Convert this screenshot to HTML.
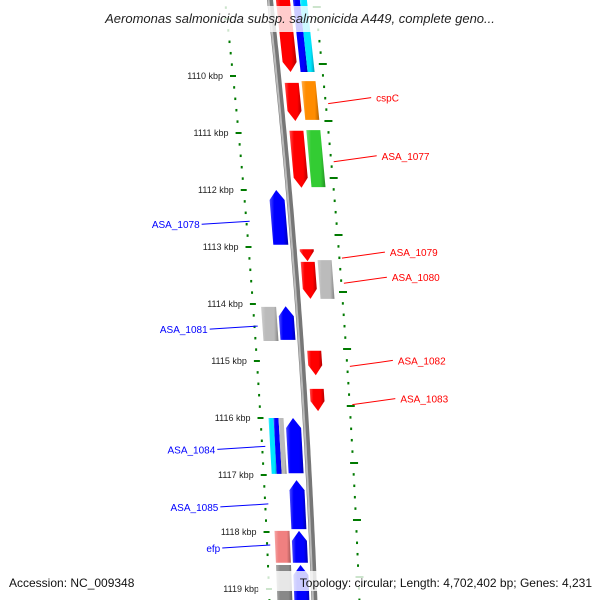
<!DOCTYPE html>
<html><head><meta charset="utf-8"><style>
html,body{margin:0;padding:0;background:#fff;}
svg{display:block;font-family:"Liberation Sans","DejaVu Sans",sans-serif;}
</style></head><body>
<svg id="map" width="600" height="600" viewBox="0 0 600 600" xmlns="http://www.w3.org/2000/svg">
<defs>
<linearGradient id="bb" x1="0" x2="1" y1="0" y2="0"><stop offset="0" stop-color="#aaa"/><stop offset="0.4" stop-color="#888"/><stop offset="1" stop-color="#555"/></linearGradient>
</defs>
<g id="ticks"></g>
<g id="backbone-g"></g>
<g id="feats"></g>
<g id="labels"></g>
<rect x="62" y="6" width="476" height="26" fill="#fff" opacity="0.8"/>
<text x="300" y="23" text-anchor="middle" font-size="13" font-style="italic" fill="#222">Aeromonas salmonicida subsp. salmonicida A449, complete geno...</text>
<rect x="5" y="571" width="147" height="20" fill="#fff" opacity="0.8"/>
<text x="9" y="587" font-size="12" fill="#111">Accession: NC_009348</text>
<rect x="258" y="571" width="338" height="20" fill="#fff" opacity="0.8"/>
<text x="592" y="587" text-anchor="end" font-size="12" fill="#111">Topology: circular; Length: 4,702,402 bp; Genes: 4,231</text>
</svg>
<script>
// data
const featStart = [1108.5,1108.5,1108.5,1110.12,1110.09,1110.96,1110.95,1112.0,1113.04,1113.26,1113.23,1114.05,1114.04,1114.82,1115.49,1116.0,1116.0,1116.0,1116.0,1117.09,1117.98,1117.98,1118.58,1118.58];
const featEnd   = [1109.93,1109.93,1109.93,1110.79,1110.77,1111.96,1111.95,1112.96,1113.25,1113.91,1113.91,1114.65,1114.63,1115.25,1115.88,1116.98,1116.98,1116.98,1116.97,1117.95,1118.54,1118.54,1119.4,1119.4];
const featLane  = ['rin','routA','routB','rin','rout','rin','rout','lin','rin','rin','rout','lout','lin','rin','rin','loutA','loutB','loutC','lin','lin','lout','lin','lout','lin'];
const featColor = ['#ff0000','#0000ff','#00e5ff','#ff0000','#ff8c00','#ff0000','#33cc33','#0000ff','#ff0000','#ff0000','#bbbbbb','#bbbbbb','#0000ff','#ff0000','#ff0000','#00e5ff','#0000ff','#bbbbbb','#0000ff','#0000ff','#f08080','#0000ff','#888888','#0000ff'];
const featArrow = [1,0,0,1,0,1,0,-1,1,1,0,0,-1,1,1,0,0,0,-1,-1,0,-1,0,-1];
const rightLabels = ['cspC','ASA_1077','ASA_1079','ASA_1080','ASA_1082','ASA_1083'];
const rightLabelKbp = [1110.38,1111.40,1113.09,1113.53,1114.99,1115.66];
const leftLabels = ['ASA_1078','ASA_1081','ASA_1084','ASA_1085','efp'];
const leftLabelKbp = [1112.60,1114.44,1116.55,1117.56,1118.28];
const kbpMin = 1108.4, kbpMax = 1119.3;

const NS="http://www.w3.org/2000/svg";
const yOf = k => 76 + (k-1110)*57;
const cx = y => 270 + 0.11*y - 0.00006*y*y;
const lanes = {rin:[6,20],rout:[23,37],routA:[23,30],routB:[30,37],lin:[-20,-5],lout:[-37,-22],loutA:[-37,-32],loutB:[-32,-27],loutC:[-27,-22]};
function mk(tag, attrs, parent){const e=document.createElementNS(NS,tag);for(const k in attrs)e.setAttribute(k,attrs[k]);parent.appendChild(e);return e;}
function shade(c,f){const n=parseInt(c.slice(1),16);let r=n>>16,g=(n>>8)&255,b=n&255;
  const m=v=>Math.max(0,Math.min(255,Math.round(f>1?v+(255-v)*(f-1):v*f)));return `rgb(${m(r)},${m(g)},${m(b)})`;}

// backbone
const bbg=document.getElementById('backbone-g');
let pts=[];for(let y=-5;y<=605;y+=5)pts.push(`${cx(y).toFixed(1)},${y}`);
const bl=mk('polyline',{points:pts.join(' '),fill:'none',stroke:'#777','stroke-width':6},bbg);

const bl2=mk('polyline',{points:pts.map(p=>{const[a,b]=p.split(',');return (parseFloat(a)-1.5)+','+b}).join(' '),fill:'none',stroke:'#bbb','stroke-width':2},bbg);


// ticks
const tg=document.getElementById('ticks');
for(let i=Math.ceil(kbpMin*5);i<=Math.floor(kbpMax*5)+2;i++){
  const k=i/5, major=(i%5===0);
  const y=yOf(k), x=cx(y);
  const lt=mk('line',{x1:x-(major?48:46),x2:x-(major?42:44),y1:y,y2:y,stroke:'#007a00','stroke-width':major?2:2.5},tg);
  
  const yr=y-12, xr=cx(yr);
  const rt=mk('line',{x1:xr+(major?42:44),x2:xr+(major?50:46),y1:yr,y2:yr,stroke:'#007a00','stroke-width':major?2:2.5},tg);
  
  if(major && k>=1110){
    const t=mk('text',{x:x-55,y:y+3,'text-anchor':'end','font-size':9,fill:'#222'},tg);
    t.textContent=k+' kbp';
    
  }
}

// features
const fg=document.getElementById('feats');
featStart.forEach((s,i)=>{
  const y1=yOf(s), y2=yOf(featEnd[i]);
  const [o1,o2]=lanes[featLane[i]];
  const a=featArrow[i], h=10;
  const xa=(y,o)=>(cx(y)+o).toFixed(1);
  let p;
  if(a===1){const yb=y2-h;p=[[xa(y1,o1),y1],[xa(y1,o2),y1],[xa(yb,o2),yb],[xa(y2,(o1+o2)/2),y2],[xa(yb,o1),yb]];}
  else if(a===-1){const yb=y1+h;p=[[xa(y1,(o1+o2)/2),y1],[xa(yb,o2),yb],[xa(y2,o2),y2],[xa(y2,o1),y2],[xa(yb,o1),yb]];}
  else p=[[xa(y1,o1),y1],[xa(y1,o2),y1],[xa(y2,o2),y2],[xa(y2,o1),y2]];
  const gid='g'+i;
  const lg=mk('linearGradient',{id:gid,x1:0,x2:1,y1:0,y2:0},fg);
  mk('stop',{offset:0,'stop-color':shade(featColor[i],1.3)},lg);
  mk('stop',{offset:0.25,'stop-color':featColor[i]},lg);
  mk('stop',{offset:0.75,'stop-color':featColor[i]},lg);
  mk('stop',{offset:1,'stop-color':shade(featColor[i],0.7)},lg);
  const poly=mk('polygon',{points:p.map(q=>q.join(',')).join(' '),fill:`url(#${gid})`},fg);
  
  
});

// labels
const lgp=document.getElementById('labels');
rightLabels.forEach((n,i)=>{
  const y=yOf(rightLabelKbp[i]), x=cx(y);
  const l=mk('line',{x1:x+48,y1:y+6,x2:x+91,y2:y,stroke:'#f00','stroke-width':1},lgp);
  
  const t=mk('text',{x:x+96,y:y+4,'font-size':10,fill:'#f00'},lgp);
  t.textContent=n;
  
});
leftLabels.forEach((n,i)=>{
  const y=yOf(leftLabelKbp[i]), x=cx(y);
  const l=mk('line',{x1:x-42,y1:y-3,x2:x-90,y2:y,stroke:'#00f','stroke-width':1},lgp);
  
  const t=mk('text',{x:x-92,y:y+4,'text-anchor':'end','font-size':10,fill:'#00f'},lgp);
  t.textContent=n;
  
});
</script>
</body></html>
